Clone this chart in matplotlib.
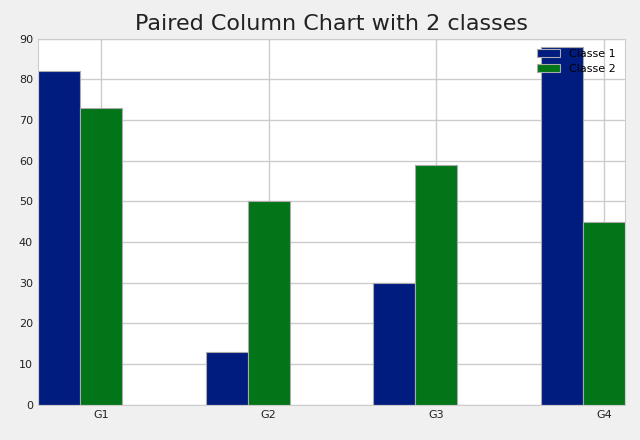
import numpy as np
import matplotlib
matplotlib.use("Agg")
import matplotlib.pyplot as plt

groups = ["G1", "G2", "G3", "G4"]
class1 = [82, 13, 30, 88]
class2 = [73, 50, 59, 45]

fig = plt.figure(figsize=(6.4, 4.4), dpi=100, facecolor="#f0f0f0")
ax = fig.add_axes([0.059, 0.08, 0.918, 0.832])
ax.set_facecolor("white")
x = np.arange(len(groups))
w = 0.25
ax.bar(x - w, class1, w, color="#001c7f", edgecolor="#aaaaaa", linewidth=0.8, label="Classe 1", zorder=2)
ax.bar(x, class2, w, color="#017517", edgecolor="#aaaaaa", linewidth=0.8, label="Classe 2", zorder=2)
ax.set_xlim(-0.375, 3.125)
ax.set_ylim(0, 90)
ax.set_yticks(range(0, 91, 10))
ax.set_xticks(x)
ax.set_xticklabels(groups)
ax.tick_params(labelsize=8, length=0, colors="#222222")
ax.grid(True, color="#cccccc", linewidth=1, zorder=0)
ax.set_axisbelow(True)
for s in ax.spines.values():
    s.set_color("#cccccc")
ax.set_title("Paired Column Chart with 2 classes", fontsize=16, color="#222222")
ax.legend(loc="upper right", fontsize=8, frameon=False)
fig.savefig("out.png", facecolor=fig.get_facecolor())
